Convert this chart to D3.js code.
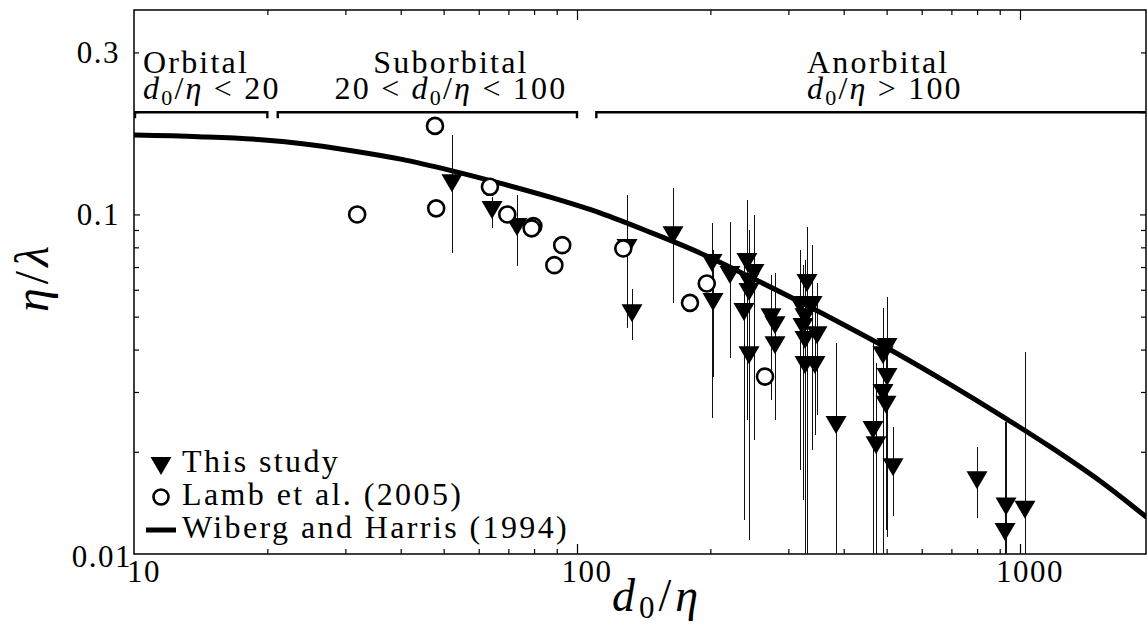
<!DOCTYPE html>
<html><head><meta charset="utf-8">
<script src="https://cdn.jsdelivr.net/npm/d3@7"></script>
<style>
body{margin:0;background:#fff}
svg{display:block}
text{font-family:"Liberation Serif","Times New Roman",serif;fill:#000}
</style>
</head><body>
<svg id="chart" width="1147" height="625"></svg>
<script>
// ---- data ----
const studyX  = [52.2, 64.3, 73.2, 129.7, 133.1, 164.7, 201.7, 202.8, 221.5, 241.9, 250.9, 244.5, 244.5, 238.2, 244.5, 274.1, 279.9, 279.9, 330.5, 318.7, 339.3, 327.1, 323.7, 348.2, 327.1, 327.1, 344.5, 384.4, 501, 490.7, 501, 490.7, 498.3, 465.9, 473.2, 516.9, 799.8, 929.9, 925, 1026];
const studyY  = [0.1236, 0.1030, 0.0918, 0.0796, 0.0512, 0.0869, 0.0719, 0.0552, 0.0663, 0.0724, 0.0672, 0.0632, 0.0591, 0.0516, 0.0385, 0.0498, 0.0472, 0.0412, 0.0628, 0.0541, 0.0541, 0.0498, 0.0466, 0.0441, 0.0427, 0.0360, 0.0360, 0.0240, 0.0407, 0.0385, 0.0332, 0.0298, 0.0275, 0.0232, 0.0209, 0.0180, 0.0165, 0.0138, 0.0116, 0.0135];
const studyHi = [0.1713, 0.1124, 0.1140, 0.1140, 0.0603, 0.1195, 0.0943, 0.0785, 0.0949, 0.1102, 0.0995, 0.0899, 0.0840, 0.0734, 0.0559, 0.0663, 0.0672, 0.0599, 0.0918, 0.0785, 0.0812, 0.0734, 0.0709, 0.0628, 0.0641, 0.0559, 0.0523, 0.0418, 0.0571, 0.0530, 0.0489, 0.0456, 0.0427, 0.0418, 0.0365, 0.0236, 0.0207, 0.0245, 0.0245, 0.0393];
const studyLo = [0.0769, 0.0912, 0.0704, 0.0463, 0.0427, 0.0548, 0.0251, 0.0331, 0.0378, 0.0248, 0.0217, 0.0177, 0.0144, 0.0126, 0.0110, 0.0284, 0.0271, 0.0248, 0.005, 0.0177, 0.0202, 0.005, 0.0144, 0.0257, 0.0232, 0.0165, 0.0224, 0.005, 0.0112, 0.0111, 0.0126, 0.005, 0.0118, 0.005, 0.005, 0.0129, 0.0128, 0.005, 0.005, 0.005];

const lambX = [31.9, 47.8, 48.1, 63.6, 69.6, 79.7, 79.0, 92.6, 88.9, 127.2, 196.3, 179.9, 265.7];
const lambY = [0.100, 0.1823, 0.1042, 0.1206, 0.100, 0.0924, 0.0910, 0.0812, 0.0709, 0.0794, 0.0626, 0.0549, 0.0333];

const curveX = [10, 14, 20, 24, 31, 40, 52, 67, 87, 113, 146, 190, 246, 319, 413, 536, 695, 901, 1169, 1516, 1935];
const curveY = [0.1713, 0.1694, 0.1655, 0.1616, 0.1541, 0.1455, 0.1346, 0.1236, 0.1124, 0.1009, 0.0887, 0.0769, 0.0654, 0.0552, 0.0463, 0.0385, 0.0316, 0.0257, 0.0207, 0.0164, 0.0128];

const xTickLabels = [10, 100, 1000];
const xMinorTicks = [20,30,40,50,60,70,80,90,200,300,400,500,600,700,800,900];
const yTickLabels = [0.01, 0.1, 0.3];
const yMinorTicks = [0.02,0.03,0.04,0.05,0.06,0.07,0.08,0.09,0.2,0.3];

const regionNames = ["Orbital", "Suborbital", "Anorbital"];
const regionFrom  = [10, 21, 110];
const regionTo    = [20, 100, 3000];
const regionLevel = 0.2;

const legendLabels = ["This study", "Lamb et al. (2005)", "Wiberg and Harris (1994)"];

// ---- layout ----
const L = 134, R = 1146, T = 10, B = 554;
const x = d3.scaleLog().domain([10, 1925]).range([L, R]);
const y = d3.scaleLog().domain([0.01, 0.4]).range([B, T]);

const svg = d3.select("#chart");
svg.append("defs").append("clipPath").attr("id","clip")
  .append("rect").attr("x",L).attr("y",T).attr("width",R-L).attr("height",B-T);

const LS = 2.2;

// axes
function addAxis(axisGen, tx, ty, vals, size) {
  const g = svg.append("g").attr("transform",`translate(${tx},${ty})`)
    .call(axisGen.tickValues(vals).tickSize(size).tickFormat(""));
  g.select(".domain").remove();
  g.selectAll(".tick line").attr("stroke","#000").attr("stroke-width",1.2);
  return g;
}
addAxis(d3.axisBottom(x), 0, B, xMinorTicks, -5);
addAxis(d3.axisBottom(x), 0, B, [100,1000], -10);
addAxis(d3.axisTop(x), 0, T, xMinorTicks, -5);
addAxis(d3.axisTop(x), 0, T, [100,1000], -10);
addAxis(d3.axisLeft(y), L, 0, yMinorTicks, -5);
addAxis(d3.axisLeft(y), L, 0, [0.1], -6);
addAxis(d3.axisRight(y), R, 0, yMinorTicks, -5);
addAxis(d3.axisRight(y), R, 0, [0.1], -6);

svg.append("rect").attr("x",L).attr("y",T).attr("width",R-L).attr("height",B-T)
  .attr("fill","none").attr("stroke","#000").attr("stroke-width",1.5);

// tick labels
svg.append("g").selectAll("text").data(xTickLabels).join("text")
  .attr("x", d => x(d) + 10).attr("y", 582)
  .attr("text-anchor","middle").attr("font-size",31).attr("letter-spacing",1.5)
  .text(d => d);
svg.append("g").selectAll("text").data(yTickLabels).join("text")
  .attr("x", d => (d === 0.01 ? 132 : 120)).attr("y", d => y(d) + (d === 0.01 ? 13 : 11))
  .attr("text-anchor","end").attr("font-size",31).attr("letter-spacing",1.5)
  .text(d => d);

// axis titles
const xt = svg.append("text").attr("x",657).attr("y",611).attr("text-anchor","middle")
  .attr("font-size",46).attr("letter-spacing",4);
xt.append("tspan").attr("font-style","italic").text("d");
xt.append("tspan").attr("font-size",31).attr("dy",7).text("0");
xt.append("tspan").attr("dy",-7).text("/");
xt.append("tspan").attr("font-style","italic").text("η");

const yt = svg.append("text").attr("transform","translate(48,277) rotate(-90)")
  .attr("text-anchor","middle").attr("font-size",48).attr("letter-spacing",4);
yt.append("tspan").attr("font-style","italic").text("η");
yt.append("tspan").text("/");
yt.append("tspan").attr("font-style","italic").text("λ");

// region brackets
const plot = svg.append("g").attr("clip-path","url(#clip)");
regionNames.forEach((n,i) => {
  const x0 = x(regionFrom[i]), x1 = Math.min(x(regionTo[i]), R+5), yy = y(regionLevel);
  plot.append("path")
    .attr("d", `M${x0+1},${yy+6}V${yy}H${x1}` + (i < 2 ? `V${yy+6}` : ""))
    .attr("fill","none").attr("stroke","#000").attr("stroke-width",2.4);
});

function mathLine(sel, parts) {
  parts.forEach(p => {
    const t = sel.append("tspan").text(p.t);
    if (p.i) t.attr("font-style","italic");
    if (p.sub) t.attr("font-size",22).attr("dy",6);
    if (p.up) t.attr("dy",-6);
  });
}
const dEta = [{t:"d",i:1},{t:"0",sub:1},{t:"/",up:1},{t:"η",i:1}];
const regionLine2 = [
  [...dEta, {t:" < 20"}],
  [{t:"20 < "}, ...dEta, {t:" < 100"}],
  [...dEta, {t:" > 100"}]
];
const regionAnchor = ["start","middle","start"];
const regionTextX = [143, 451, 807];
regionNames.forEach((n,i) => {
  svg.append("text").attr("x",regionTextX[i]).attr("y",73).attr("text-anchor",regionAnchor[i])
    .attr("font-size",32).attr("letter-spacing",LS).text(n);
  const t = svg.append("text").attr("x",regionTextX[i]).attr("y",99).attr("text-anchor",regionAnchor[i])
    .attr("font-size",32).attr("letter-spacing",LS);
  mathLine(t, regionLine2[i]);
});

// curve
const line = d3.line().x((d,i) => x(curveX[i])).y((d,i) => y(curveY[i])).curve(d3.curveMonotoneX);
plot.append("path").datum(curveX).attr("d", line)
  .attr("fill","none").attr("stroke","#000").attr("stroke-width",5);

// error bars
plot.append("g").attr("shape-rendering","crispEdges").selectAll("line").data(studyX).join("line")
  .attr("x1",(d,i)=>Math.round(x(d))+0.5).attr("x2",(d,i)=>Math.round(x(d))+0.5)
  .attr("y1",(d,i)=>y(studyHi[i])).attr("y2",(d,i)=>y(studyLo[i]))
  .attr("stroke","#111").attr("stroke-width",1);

// triangles
const tri = "M-10.5,-9L10.5,-9L0,9Z";
plot.append("g").selectAll("path").data(studyX).join("path")
  .attr("transform",(d,i)=>`translate(${x(d)},${y(studyY[i])})`)
  .attr("d",tri).attr("fill","#000");

// circles
plot.append("g").selectAll("circle").data(lambX).join("circle")
  .attr("cx",(d,i)=>x(d)).attr("cy",(d,i)=>y(lambY[i])).attr("r",8)
  .attr("fill","#fff").attr("stroke","#000").attr("stroke-width",2.6);

// legend
const lg = svg.append("g");
lg.append("path").attr("transform","translate(161,466)").attr("d",tri).attr("fill","#000");
lg.append("circle").attr("cx",161).attr("cy",497).attr("r",7.5)
  .attr("fill","#fff").attr("stroke","#000").attr("stroke-width",2.6);
lg.append("line").attr("x1",146).attr("x2",176).attr("y1",530).attr("y2",530)
  .attr("stroke","#000").attr("stroke-width",5);
const legY = [472, 505, 538];
lg.selectAll("text").data(legendLabels).join("text")
  .attr("x",182).attr("y",(d,i)=>legY[i]).attr("font-size",32).attr("letter-spacing",2.4)
  .text(d=>d);
</script>
</body></html>
